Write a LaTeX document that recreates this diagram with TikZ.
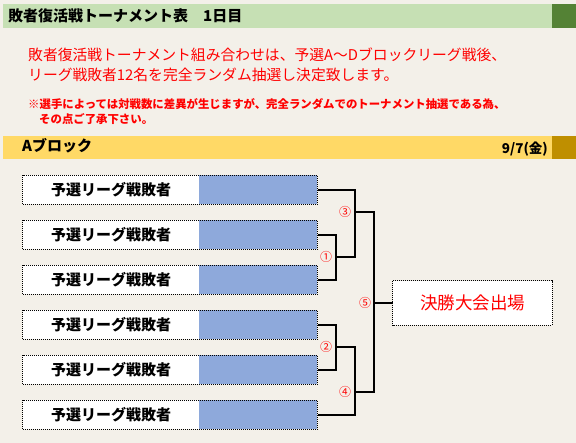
\documentclass[tikz,border=0pt]{standalone}
\usepackage{fontspec}
\newfontfamily\jp{Noto Sans CJK JP}
\definecolor{bgbeige}{HTML}{F3F0E9}
\definecolor{titlegreen}{HTML}{C6E0B4}
\definecolor{darkgreen}{HTML}{548235}
\definecolor{blockyellow}{HTML}{FFD966}
\definecolor{darkgold}{HTML}{BF8F00}
\definecolor{slotblue}{HTML}{8EA9DB}
\tikzset{
  entry/.style={fill=white,minimum width=176pt,minimum height=29pt,inner sep=0pt,
    font=\jp\bfseries\fontsize{15}{15}\selectfont},
  slot/.style={fill=slotblue,minimum width=118pt,minimum height=29pt,inner sep=0pt,anchor=west},
  dotbox/.style={draw=black,line width=0.8pt,dash pattern=on 1pt off 1pt},
  bracket/.style={draw=black,line width=1.7pt},
  matchno/.style={text=red,inner sep=0pt,font=\jp\fontsize{12}{12}\selectfont}
}
\begin{document}
\begin{tikzpicture}[x=1pt,y=-1pt]
      \useasboundingbox (0,0) rectangle (576,443);
      \fill[bgbeige] (0,0) rectangle (576,443);
      % Drawing header bars
      \fill[titlegreen] (3,4) rectangle (552,28);
      \fill[darkgreen] (552,4) rectangle (576,28);
      \node[anchor=west,inner sep=0pt,font=\jp\bfseries\fontsize{15}{15}\selectfont] (title) at (8,16) {敗者復活戦トーナメント表　1日目};
      % Line 1-2: notice in red
      \node[anchor=west,inner sep=0pt,text=red,font=\jp\fontsize{14.8}{14.8}\selectfont] (info1) at (28,55) {敗者復活戦トーナメント組み合わせは、予選A～Dブロックリーグ戦後、};
      \node[anchor=west,inner sep=0pt,text=red,font=\jp\fontsize{14.8}{14.8}\selectfont] (info2) at (28,75) {リーグ戦敗者12名を完全ランダム抽選し決定致します。};
      \node[anchor=west,inner sep=0pt,text=red,font=\jp\bfseries\fontsize{11.4}{11.4}\selectfont] (note1) at (28,104) {※選手によっては対戦数に差異が生じますが、完全ランダムでのトーナメント抽選である為、};
      \node[anchor=west,inner sep=0pt,text=red,font=\jp\bfseries\fontsize{11.4}{11.4}\selectfont] (note2) at (39,119) {その点ご了承下さい。};
      % Block bar
      \fill[blockyellow] (3,136) rectangle (552,159);
      \fill[darkgold] (552,136) rectangle (576,159);
      \node[anchor=west,inner sep=0pt,font=\jp\bfseries\fontsize{15}{15}\selectfont] (block) at (22,146) {Aブロック};
      \node[anchor=east,inner sep=0pt,font=\jp\bfseries\fontsize{13.5}{13.5}\selectfont] (date) at (548,149) {9/7(金)};
      % Drawing entries
      \foreach \i/\y in {1/190,2/235,3/280,4/325,5/370,6/415} {
        \node[entry] (e\i) at (111,\y) {予選リーグ戦敗者};
        \node[slot] (b\i) at (e\i.east) {};
        \draw[dotbox] (e\i.north west) rectangle (b\i.south east);
      }
      % Final box
      \node[fill=white,minimum width=159pt,minimum height=44pt,inner sep=0pt,text=red,
        font=\jp\fontsize{17.5}{17.5}\selectfont] (final) at (472.5,303) {決勝大会出場};
      \draw[dotbox] (final.north west) rectangle (final.south east);
      % Drawing brackets
      \coordinate (c1) at (336,257);
      \coordinate (c2) at (336,347);
      \coordinate (c3) at (355,212);
      \coordinate (c4) at (355,392);
      \coordinate (c5) at (374,303);
      \draw[bracket] (b2.east) -| (c1) |- (b3.east);
      \draw[bracket] (b1.east) -| (c3) |- (c1);
      \draw[bracket] (b4.east) -| (c2) |- (b5.east);
      \draw[bracket] (c2) -| (c4) |- (b6.east);
      \draw[bracket] (c3) -| (c5) |- (c4);
      \draw[bracket] (c5) -- (final.west);
      % Match numbers
      \node[matchno] (m1) at (326,257) {①};
      \node[matchno] (m2) at (326,347) {②};
      \node[matchno] (m3) at (345,212) {③};
      \node[matchno] (m4) at (345,392) {④};
      \node[matchno] (m5) at (365,303) {⑤};
    \end{tikzpicture}
\end{document}
